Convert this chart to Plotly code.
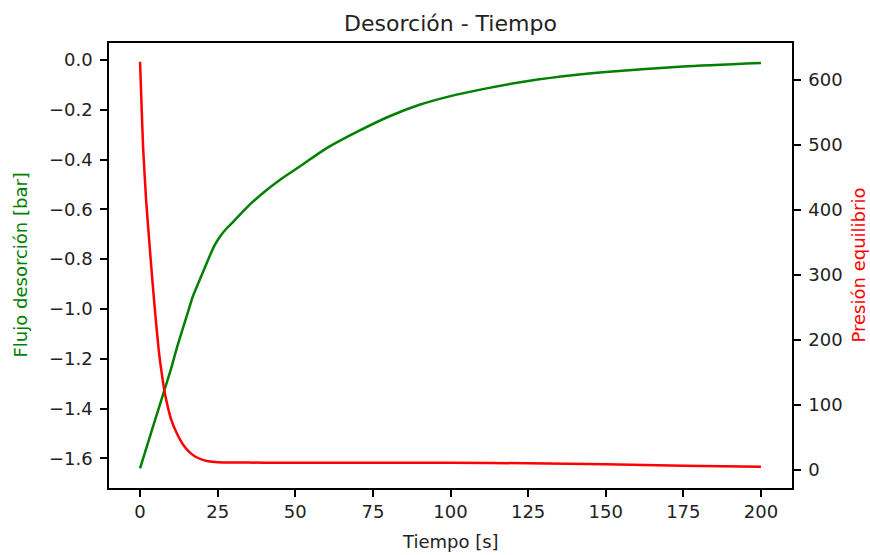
import plotly.graph_objects as go

# --- data ---
t_flujo = [0, 5, 8, 10, 12, 15, 17, 20, 22, 24, 26, 28, 30, 35, 40, 45, 50, 55, 60, 70, 80,
           90, 100, 110, 125, 140, 150, 175, 200]
flujo = [-1.64, -1.44, -1.32, -1.24, -1.15, -1.03, -0.95, -0.86, -0.80, -0.745, -0.705,
         -0.675, -0.65, -0.585, -0.53, -0.482, -0.44, -0.397, -0.355, -0.288, -0.228,
         -0.18, -0.145, -0.118, -0.084, -0.060, -0.048, -0.026, -0.012]

t_pres = [0, 0.6, 1, 2, 3, 4, 5, 6, 7, 8, 9, 10, 12, 14, 16, 18, 20, 22, 25, 30, 40, 60,
          80, 100, 125, 150, 175, 200]
presion = [628, 545, 495, 412, 350, 290, 235, 185, 148, 118, 96, 78, 55, 38, 27, 20, 16,
           13.5, 12, 11.5, 11.3, 11.3, 11.3, 11.3, 10.3, 8.7, 6.6, 5]

x_ticks = [0, 25, 50, 75, 100, 125, 150, 175, 200]
y_ticks = [-1.6, -1.4, -1.2, -1.0, -0.8, -0.6, -0.4, -0.2, 0.0]
y2_ticks = [0, 100, 200, 300, 400, 500, 600]

FONT = "DejaVu Sans"

fig = go.Figure()
fig.add_trace(go.Scatter(x=t_flujo, y=flujo, mode="lines",
                         line=dict(color="#008000", width=2.5, shape="spline", smoothing=0.6),
                         name="Flujo desorción", yaxis="y"))
fig.add_trace(go.Scatter(x=t_pres, y=presion, mode="lines",
                         line=dict(color="#ff0000", width=2.5, shape="spline", smoothing=0.5),
                         name="Presión equilibrio", yaxis="y2"))

axis_common = dict(showgrid=False, zeroline=False, showline=True, linecolor="black",
                   linewidth=1.5, ticks="outside", ticklen=7, tickwidth=1.5,
                   tickcolor="black", tickfont=dict(family=FONT, size=18, color="#222"))

fig.update_layout(
    width=870, height=555,
    margin=dict(l=109, r=78, t=43, b=67),
    paper_bgcolor="white", plot_bgcolor="white",
    showlegend=False,
    title=dict(text="Desorción - Tiempo", x=0.5, xref="paper", xanchor="center",
               y=1 - 23 / 555, yref="container", yanchor="middle",
               font=dict(family=FONT, size=22, color="#222")),
    xaxis=dict(range=[-10, 210], tickvals=x_ticks, mirror=True, **axis_common),
    yaxis=dict(range=[-1.7193, 0.0683], tickvals=y_ticks, ticklabelstandoff=4,
               ticktext=[("\u2212" if v < 0 else "") + f"{abs(v):.1f}" for v in y_ticks],
               **axis_common),
    yaxis2=dict(range=[-27.7, 656.9], tickvals=y2_ticks, overlaying="y", side="right",
                ticklabelstandoff=4, **axis_common),
    annotations=[
        dict(text="Flujo desorción [bar]", xref="paper", yref="paper",
             x=(20 - 109) / 683, y=0.5, xanchor="center", yanchor="middle",
             textangle=-90, showarrow=False,
             font=dict(family=FONT, size=18, color="#008000")),
        dict(text="Presión equilibrio", xref="paper", yref="paper",
             x=(858 - 109) / 683, y=0.5, xanchor="center", yanchor="middle",
             textangle=-90, showarrow=False,
             font=dict(family=FONT, size=18, color="#ff0000")),
        dict(text="Tiempo [s]", xref="paper", yref="paper",
             x=0.5, y=(488 - 541) / 445, xanchor="center", yanchor="middle",
             showarrow=False,
             font=dict(family=FONT, size=18, color="#222")),
    ],
)

fig.write_html("out.html")
